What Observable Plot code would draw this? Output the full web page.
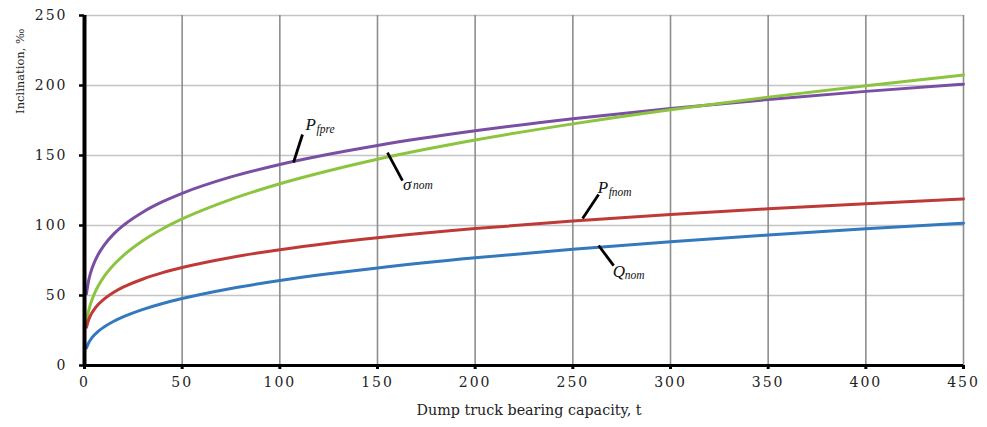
<!DOCTYPE html>
<html><head><meta charset="utf-8">
<script src="https://cdn.jsdelivr.net/npm/d3@7"></script>
<script src="https://cdn.jsdelivr.net/npm/@observablehq/plot@0.6"></script>
<style>
body{margin:0;background:#fff;}
g[aria-label="x-axis tick label"] text, g[aria-label="y-axis tick label"] text {letter-spacing:2px;}
</style>
</head><body><div id="chart"></div>
<script>
// Dump truck bearing capacity, t
const capacity = [1,2,3,5,7,10,15,20,30,40,50,75,100,125,150,200,250,300,350,400,450];
// Inclination, per mille
const pFpre  = [51.3,59.9,65.6,73.5,79.3,85.8,94.0,100.2,109.7,117.0,123.0,134.7,143.6,150.9,157.2,167.6,176.2,183.6,190.0,195.8,200.9];
const sigmaNom = [31.0,38.4,43.6,51.1,56.8,63.5,72.0,78.7,89.3,97.7,104.7,118.7,129.8,139.1,147.3,161.0,172.6,182.7,191.7,199.8,207.5];
const pFnom  = [27.2,32.2,35.5,40.1,43.5,47.4,52.3,56.1,61.8,66.3,70.0,77.2,82.7,87.3,91.2,97.8,103.2,107.8,111.9,115.6,118.9];
const qNom   = [12.5,15.9,18.2,21.7,24.4,27.5,31.6,34.9,40.1,44.3,47.8,55,60.7,65.5,69.7,76.9,83,88.4,93.2,97.6,101.6];
const seriesKeys = ["Pfpre","σnom","Pfnom","Qnom"];
const xTicks = [0,50,100,150,200,250,300,350,400,450];
const yTicks = [0,50,100,150,200,250];
// curve labels: base letter, subscript, label anchor (x,y), leader line from (x1,y1) to (x2,y2)
const labelBase = ["P","σ","P","Q"];
const labelSub  = ["fpre","nom","fnom","nom"];
const labelX = [113.2,163.0,262.7,270.4];
const labelY = [172.1,129.6,126.8,67.1];
const leadX1 = [107,155.1,255,263.2];
const leadY1 = [145,152.1,105,85.7];
const leadX2 = [111.6,162.8,263.2,270.9];
const leadY2 = [165,132.1,122.1,71.4];

const colors = ["#7a4ea3","#8cc43f","#bf3a36","#3478bd"];
const valuesBySeries = [pFpre, sigmaNom, pFnom, qNom];
const rows = seriesKeys.flatMap((k,i) => capacity.map((x,j) => ({key:k, x, y: valuesBySeries[i][j]})));
const labels = labelBase.map((b,i) => ({base:b, sub:labelSub[i], x:labelX[i], y:labelY[i],
  x1:leadX1[i], y1:leadY1[i], x2:leadX2[i], y2:leadY2[i]}));
const subDx = [11,10,11,12];
const subDy = [5,1.5,4.5,4];

const chart = Plot.plot({
  width: 987, height: 427,
  marginTop: 15, marginBottom: 62, marginLeft: 84, marginRight: 24,
  style: {fontFamily: "DejaVu Serif", fontSize: "14px", color: "#222", background: "#fff", overflow: "visible"},
  x: {domain: [0,450], label: null},
  y: {domain: [0,250], label: null},
  color: {domain: seriesKeys, range: colors},
  marks: [
    Plot.gridY(yTicks.filter(d => d > 0), {stroke: "#c4c4c4", strokeOpacity: 1, strokeWidth: 1.3}),
    Plot.gridX(xTicks.filter(d => d > 0), {stroke: "#8e8e8e", strokeOpacity: 1, strokeWidth: 1.6}),
    Plot.line(rows, {x: "x", y: "y", z: "key", stroke: "key", strokeWidth: 3, curve: "monotone-x"}),
    Plot.ruleX([0], {stroke: "#000", strokeWidth: 4}),
    Plot.ruleY([0], {stroke: "#000", strokeWidth: 3}),
    Plot.axisX({ticks: xTicks, tickSize: 4, tickPadding: 8, stroke: "#000", strokeWidth: 3, fontSize: 14, fill: "#222"}),
    Plot.axisY({ticks: yTicks, tickSize: 5, tickPadding: 12, stroke: "#000", strokeWidth: 2.5, fontSize: 14, fill: "#222"}),
    Plot.link(labels, {x1: "x1", y1: "y1", x2: "x2", y2: "y2", stroke: "#000", strokeWidth: 2.8}),
    Plot.text(labels, {x: "x", y: "y", text: "base", textAnchor: "start", lineAnchor: "middle",
      fontFamily: "Liberation Serif", fontStyle: "italic", fontSize: 17, fill: "#111"}),
    ...labels.map((l,i) => Plot.text([l], {x: "x", y: "y", text: "sub", textAnchor: "start", lineAnchor: "middle",
      dx: subDx[i], dy: subDy[i], fontFamily: "Liberation Serif", fontStyle: "italic", fontSize: 11.5, fill: "#111"})),
    Plot.text(["Dump truck bearing capacity, t"], {frameAnchor: "bottom", dy: 49, dx: 5,
      fontFamily: "DejaVu Serif", fontSize: 14.3, fill: "#222"}),
    Plot.text(["Inclination, ‰"], {frameAnchor: "top-left", rotate: -90, textAnchor: "end", dx: -69, dy: 13,
      fontFamily: "DejaVu Serif", fontSize: 11.5, fill: "#222"})
  ]
});
document.getElementById("chart").append(chart);
</script>
</body></html>
